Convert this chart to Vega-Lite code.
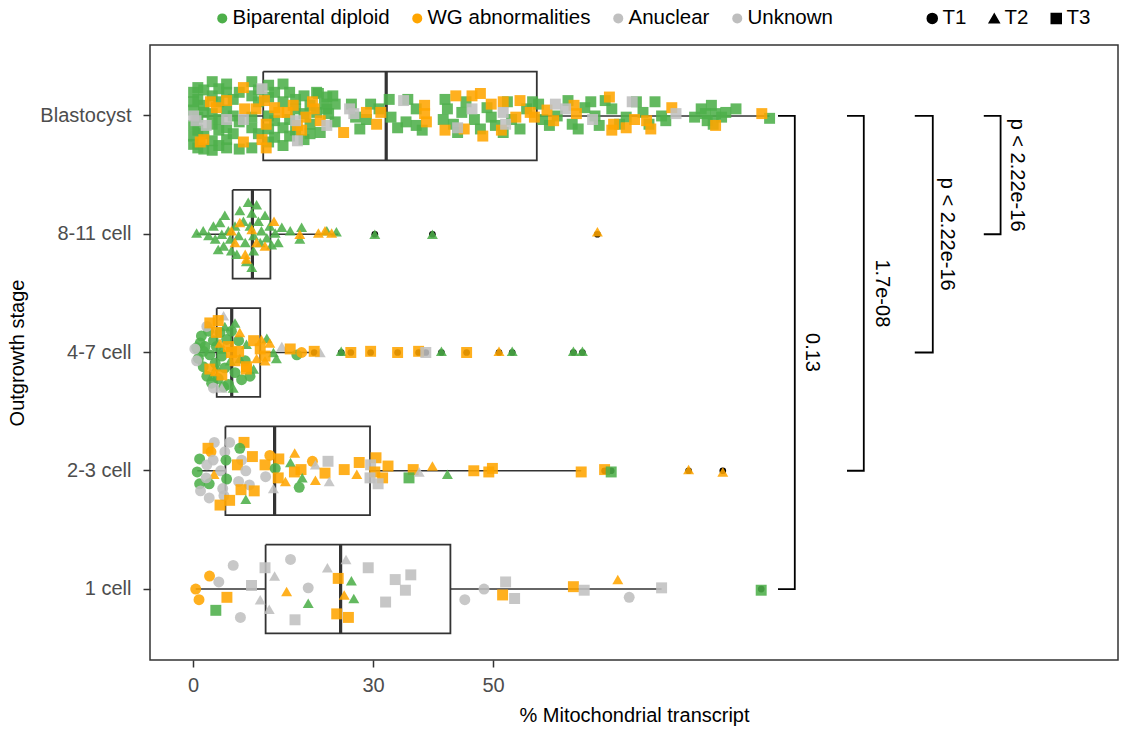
{
"$schema":"https://vega.github.io/schema/vega-lite/v6.json",
"width":968,"height":615,
"autosize":{"type":"none"},
"padding":{"left":150,"top":45,"right":11,"bottom":69},
"background":"white",
"config":{
"font":"Liberation Sans",
"view":{"stroke":"#333333","strokeWidth":1.5},
"axis":{"domain":false,"grid":false,"tickColor":"#333333","tickWidth":1.5,"tickSize":7,"labelFontSize":20,"labelColor":"#4D4D4D","titleFontSize":20,"titleColor":"#000000","titleFontWeight":"normal"},
"legend":{"padding":0,"labelFontSize":20.5,"labelColor":"#000000","symbolOpacity":1,"labelOffset":0,"labelLimit":400}
},
"datasets":{
"box":[
{"s":"Bl","lo":0.1,"q1":11.7,"q3":57.3,"hi":96.1},
{"s":"c8","lo":0.6,"q1":6.6,"q3":12.9,"hi":24.2},
{"s":"c4","lo":0.1,"q1":3.95,"q3":11.2,"hi":19.4},
{"s":"c2","lo":0.7,"q1":5.4,"q3":29.5,"hi":64.7},
{"s":"c1","lo":0.45,"q1":12.1,"q3":42.9,"hi":78.1}
],
"boxl":[
{"s":"Bl","k":"Bl","o":0,"x":11.7,"j":-0.375},{"s":"Bl","k":"Bl","o":1,"x":57.3,"j":-0.375},{"s":"Bl","k":"Bl","o":2,"x":57.3,"j":0.375},{"s":"Bl","k":"Bl","o":3,"x":11.7,"j":0.375},{"s":"Bl","k":"Bl","o":4,"x":11.7,"j":-0.375},
{"s":"c8","k":"c8","o":0,"x":6.6,"j":-0.375},{"s":"c8","k":"c8","o":1,"x":12.9,"j":-0.375},{"s":"c8","k":"c8","o":2,"x":12.9,"j":0.375},{"s":"c8","k":"c8","o":3,"x":6.6,"j":0.375},{"s":"c8","k":"c8","o":4,"x":6.6,"j":-0.375},
{"s":"c4","k":"c4","o":0,"x":3.95,"j":-0.375},{"s":"c4","k":"c4","o":1,"x":11.2,"j":-0.375},{"s":"c4","k":"c4","o":2,"x":11.2,"j":0.375},{"s":"c4","k":"c4","o":3,"x":3.95,"j":0.375},{"s":"c4","k":"c4","o":4,"x":3.95,"j":-0.375},
{"s":"c2","k":"c2","o":0,"x":5.4,"j":-0.375},{"s":"c2","k":"c2","o":1,"x":29.5,"j":-0.375},{"s":"c2","k":"c2","o":2,"x":29.5,"j":0.375},{"s":"c2","k":"c2","o":3,"x":5.4,"j":0.375},{"s":"c2","k":"c2","o":4,"x":5.4,"j":-0.375},
{"s":"c1","k":"c1","o":0,"x":12.1,"j":-0.375},{"s":"c1","k":"c1","o":1,"x":42.9,"j":-0.375},{"s":"c1","k":"c1","o":2,"x":42.9,"j":0.375},{"s":"c1","k":"c1","o":3,"x":12.1,"j":0.375},{"s":"c1","k":"c1","o":4,"x":12.1,"j":-0.375}
],
"medl":[
{"s":"Bl","k":"Bl","o":0,"x":32.2,"j":-0.375},{"s":"Bl","k":"Bl","o":1,"x":32.2,"j":0.375},
{"s":"c8","k":"c8","o":0,"x":9.9,"j":-0.375},{"s":"c8","k":"c8","o":1,"x":9.9,"j":0.375},
{"s":"c4","k":"c4","o":0,"x":6.45,"j":-0.375},{"s":"c4","k":"c4","o":1,"x":6.45,"j":0.375},
{"s":"c2","k":"c2","o":0,"x":13.6,"j":-0.375},{"s":"c2","k":"c2","o":1,"x":13.6,"j":0.375},
{"s":"c1","k":"c1","o":0,"x":24.6,"j":-0.375},{"s":"c1","k":"c1","o":1,"x":24.6,"j":0.375}
],
"out":[
{"s":"c8","v":30.3},{"s":"c8","v":39.9},{"s":"c8","v":67.4},
{"s":"c4","v":20.2},{"s":"c4","v":24.7},{"s":"c4","v":26.3},{"s":"c4","v":29.6},{"s":"c4","v":34.1},{"s":"c4","v":37.6},{"s":"c4","v":38.8},{"s":"c4","v":41.4},{"s":"c4","v":45.6},{"s":"c4","v":51.0},{"s":"c4","v":53.2},{"s":"c4","v":63.4},{"s":"c4","v":64.9},
{"s":"c2","v":68.6},{"s":"c2","v":69.7},{"s":"c2","v":82.6},{"s":"c2","v":88.3},
{"s":"c1","v":94.7}
],
"br":[
{"k":1,"o":0,"x":97.5,"s":"Bl"},{"k":1,"o":1,"x":100.3,"s":"Bl"},{"k":1,"o":2,"x":100.3,"s":"c1"},{"k":1,"o":3,"x":97.5,"s":"c1"},
{"k":2,"o":0,"x":109.0,"s":"Bl"},{"k":2,"o":1,"x":111.8,"s":"Bl"},{"k":2,"o":2,"x":111.8,"s":"c2"},{"k":2,"o":3,"x":109.0,"s":"c2"},
{"k":3,"o":0,"x":120.3,"s":"Bl"},{"k":3,"o":1,"x":123.3,"s":"Bl"},{"k":3,"o":2,"x":123.3,"s":"c4"},{"k":3,"o":3,"x":120.3,"s":"c4"},
{"k":4,"o":0,"x":131.8,"s":"Bl"},{"k":4,"o":1,"x":134.6,"s":"Bl"},{"k":4,"o":2,"x":134.6,"s":"c8"},{"k":4,"o":3,"x":131.8,"s":"c8"}
],
"lab":[
{"x":103.1,"s":"c4","j":0,"l":"0.13"},
{"x":114.8,"s":"c8","j":0.5,"l":"1.7e-08"},
{"x":125.6,"s":"c8","j":0,"l":"p < 2.22e-16"},
{"x":137.3,"s":"Bl","j":0.5,"l":"p < 2.22e-16"}
],
"pts":[
{"s":"Bl","v":0.1,"j":-0.2,"c":"BD","t":"T3"},{"s":"Bl","v":0.1,"j":-0.12,"c":"BD","t":"T3"},{"s":"Bl","v":0.1,"j":-0.05,"c":"BD","t":"T3"},{"s":"Bl","v":0.1,"j":0.08,"c":"BD","t":"T3"},{"s":"Bl","v":0.1,"j":0.17,"c":"BD","t":"T3"},{"s":"Bl","v":0.1,"j":0.24,"c":"BD","t":"T3"},
{"s":"Bl","v":0.8,"j":-0.24,"c":"BD","t":"T3"},{"s":"Bl","v":0.8,"j":-0.14,"c":"BD","t":"T3"},{"s":"Bl","v":0.8,"j":0.01,"c":"BD","t":"T3"},{"s":"Bl","v":0.8,"j":0.12,"c":"BD","t":"T3"},{"s":"Bl","v":0.8,"j":0.27,"c":"BD","t":"T3"},
{"s":"Bl","v":1.8,"j":-0.22,"c":"BD","t":"T3"},{"s":"Bl","v":1.8,"j":-0.09,"c":"BD","t":"T3"},{"s":"Bl","v":1.8,"j":-0.03,"c":"BD","t":"T3"},{"s":"Bl","v":1.8,"j":0.15,"c":"BD","t":"T3"},{"s":"Bl","v":1.8,"j":0.28,"c":"BD","t":"T3"},
{"s":"Bl","v":3.2,"j":-0.29,"c":"BD","t":"T3"},{"s":"Bl","v":3.2,"j":-0.17,"c":"BD","t":"T3"},{"s":"Bl","v":3.2,"j":-0.02,"c":"BD","t":"T3"},{"s":"Bl","v":3.2,"j":0.07,"c":"BD","t":"T3"},{"s":"Bl","v":3.2,"j":0.21,"c":"BD","t":"T3"},{"s":"Bl","v":3.2,"j":0.29,"c":"BD","t":"T3"},
{"s":"Bl","v":4.3,"j":-0.23,"c":"BD","t":"T3"},{"s":"Bl","v":4.3,"j":-0.12,"c":"BD","t":"T3"},{"s":"Bl","v":4.3,"j":0.03,"c":"BD","t":"T3"},{"s":"Bl","v":4.3,"j":0.12,"c":"BD","t":"T3"},{"s":"Bl","v":4.3,"j":0.25,"c":"BD","t":"T3"},
{"s":"Bl","v":5.6,"j":-0.27,"c":"BD","t":"T3"},{"s":"Bl","v":5.6,"j":-0.2,"c":"BD","t":"T3"},{"s":"Bl","v":5.6,"j":-0.05,"c":"BD","t":"T3"},{"s":"Bl","v":5.6,"j":0.1,"c":"BD","t":"T3"},{"s":"Bl","v":5.6,"j":0.2,"c":"BD","t":"T3"},{"s":"Bl","v":5.6,"j":0.27,"c":"BD","t":"T3"},
{"s":"Bl","v":6.7,"j":-0.14,"c":"BD","t":"T3"},{"s":"Bl","v":6.7,"j":0.0,"c":"BD","t":"T3"},{"s":"Bl","v":6.7,"j":0.15,"c":"BD","t":"T3"},
{"s":"Bl","v":7.7,"j":-0.2,"c":"BD","t":"T3"},{"s":"Bl","v":7.7,"j":0.05,"c":"BD","t":"T3"},{"s":"Bl","v":7.7,"j":0.28,"c":"BD","t":"T3"},
{"s":"Bl","v":9.8,"j":-0.29,"c":"BD","t":"T3"},{"s":"Bl","v":9.8,"j":-0.17,"c":"BD","t":"T3"},{"s":"Bl","v":9.8,"j":0.01,"c":"BD","t":"T3"},{"s":"Bl","v":9.8,"j":0.1,"c":"BD","t":"T3"},{"s":"Bl","v":9.8,"j":0.27,"c":"BD","t":"T3"},
{"s":"Bl","v":10.9,"j":-0.22,"c":"BD","t":"T3"},{"s":"Bl","v":10.9,"j":-0.12,"c":"BD","t":"T3"},{"s":"Bl","v":10.9,"j":0.15,"c":"BD","t":"T3"},
{"s":"Bl","v":12.6,"j":-0.26,"c":"BD","t":"T3"},{"s":"Bl","v":12.6,"j":-0.16,"c":"BD","t":"T3"},{"s":"Bl","v":12.6,"j":0.0,"c":"BD","t":"T3"},{"s":"Bl","v":12.6,"j":0.11,"c":"BD","t":"T3"},{"s":"Bl","v":12.6,"j":0.22,"c":"BD","t":"T3"},
{"s":"Bl","v":13.6,"j":-0.2,"c":"BD","t":"T3"},{"s":"Bl","v":13.6,"j":0.04,"c":"BD","t":"T3"},{"s":"Bl","v":13.6,"j":0.18,"c":"BD","t":"T3"},
{"s":"Bl","v":15.0,"j":-0.27,"c":"BD","t":"T3"},{"s":"Bl","v":15.0,"j":-0.12,"c":"BD","t":"T3"},{"s":"Bl","v":15.0,"j":0.1,"c":"BD","t":"T3"},{"s":"Bl","v":15.0,"j":0.25,"c":"BD","t":"T3"},
{"s":"Bl","v":16.1,"j":-0.2,"c":"BD","t":"T3"},{"s":"Bl","v":16.1,"j":0.03,"c":"BD","t":"T3"},{"s":"Bl","v":16.1,"j":0.17,"c":"BD","t":"T3"},
{"s":"Bl","v":17.1,"j":-0.14,"c":"BD","t":"T3"},{"s":"Bl","v":17.1,"j":-0.06,"c":"BD","t":"T3"},{"s":"Bl","v":17.1,"j":0.12,"c":"BD","t":"T3"},
{"s":"Bl","v":18.5,"j":-0.17,"c":"BD","t":"T3"},{"s":"Bl","v":18.5,"j":-0.02,"c":"BD","t":"T3"},{"s":"Bl","v":18.5,"j":0.2,"c":"BD","t":"T3"},
{"s":"Bl","v":19.5,"j":-0.09,"c":"BD","t":"T3"},{"s":"Bl","v":19.5,"j":0.07,"c":"BD","t":"T3"},{"s":"Bl","v":19.5,"j":0.15,"c":"BD","t":"T3"},
{"s":"Bl","v":20.6,"j":-0.2,"c":"BD","t":"T3"},{"s":"Bl","v":20.6,"j":-0.03,"c":"BD","t":"T3"},
{"s":"Bl","v":22.3,"j":-0.16,"c":"BD","t":"T3"},{"s":"Bl","v":22.3,"j":-0.06,"c":"BD","t":"T3"},
{"s":"Bl","v":23.7,"j":-0.1,"c":"BD","t":"T3"},{"s":"Bl","v":23.7,"j":0.05,"c":"BD","t":"T3"},
{"s":"Bl","v":20.9,"j":-0.19,"c":"BD","t":"T3"},{"s":"Bl","v":21.9,"j":-0.1,"c":"BD","t":"T3"},{"s":"Bl","v":23.3,"j":-0.17,"c":"BD","t":"T3"},{"s":"Bl","v":22.6,"j":-0.02,"c":"BD","t":"T3"},{"s":"Bl","v":21.2,"j":0.14,"c":"BD","t":"T3"},{"s":"Bl","v":26.4,"j":-0.1,"c":"BD","t":"T3"},{"s":"Bl","v":27.1,"j":0.01,"c":"BD","t":"T3"},{"s":"Bl","v":27.8,"j":0.11,"c":"BD","t":"T3"},{"s":"Bl","v":28.9,"j":0.03,"c":"BD","t":"T3"},{"s":"Bl","v":29.6,"j":-0.1,"c":"BD","t":"T3"},{"s":"Bl","v":31.0,"j":-0.06,"c":"BD","t":"T3"},{"s":"Bl","v":32.7,"j":-0.14,"c":"BD","t":"T3"},{"s":"Bl","v":33.0,"j":0.01,"c":"BD","t":"T3"},{"s":"Bl","v":34.1,"j":0.1,"c":"BD","t":"T3"},{"s":"Bl","v":35.8,"j":-0.14,"c":"BD","t":"T3"},{"s":"Bl","v":35.5,"j":0.05,"c":"BD","t":"T3"},{"s":"Bl","v":37.2,"j":-0.06,"c":"BD","t":"T3"},{"s":"Bl","v":38.2,"j":0.12,"c":"BD","t":"T3"},{"s":"Bl","v":37.2,"j":0.08,"c":"BD","t":"T3"},
{"s":"Bl","v":42.0,"j":-0.14,"c":"BD","t":"T3"},{"s":"Bl","v":42.4,"j":-0.06,"c":"BD","t":"T3"},{"s":"Bl","v":41.7,"j":0.03,"c":"BD","t":"T3"},{"s":"Bl","v":43.4,"j":0.07,"c":"BD","t":"T3"},{"s":"Bl","v":44.1,"j":0.14,"c":"BD","t":"T3"},{"s":"Bl","v":45.5,"j":-0.12,"c":"BD","t":"T3"},{"s":"Bl","v":44.8,"j":-0.03,"c":"BD","t":"T3"},{"s":"Bl","v":46.9,"j":0.03,"c":"BD","t":"T3"},{"s":"Bl","v":47.9,"j":0.11,"c":"BD","t":"T3"},{"s":"Bl","v":49.0,"j":-0.07,"c":"BD","t":"T3"},{"s":"Bl","v":49.7,"j":0.01,"c":"BD","t":"T3"},{"s":"Bl","v":50.4,"j":0.08,"c":"BD","t":"T3"},{"s":"Bl","v":51.7,"j":0.14,"c":"BD","t":"T3"},{"s":"Bl","v":52.4,"j":-0.12,"c":"BD","t":"T3"},{"s":"Bl","v":53.1,"j":0.03,"c":"BD","t":"T3"},{"s":"Bl","v":54.5,"j":0.11,"c":"BD","t":"T3"},{"s":"Bl","v":55.6,"j":-0.06,"c":"BD","t":"T3"},{"s":"Bl","v":56.6,"j":-0.12,"c":"BD","t":"T3"},
{"s":"Bl","v":57.6,"j":-0.1,"c":"BD","t":"T3"},{"s":"Bl","v":58.3,"j":0.03,"c":"BD","t":"T3"},{"s":"Bl","v":59.4,"j":0.08,"c":"BD","t":"T3"},{"s":"Bl","v":60.7,"j":0.0,"c":"BD","t":"T3"},{"s":"Bl","v":62.5,"j":-0.13,"c":"BD","t":"T3"},{"s":"Bl","v":63.2,"j":0.07,"c":"BD","t":"T3"},{"s":"Bl","v":64.2,"j":0.11,"c":"BD","t":"T3"},{"s":"Bl","v":65.3,"j":-0.07,"c":"BD","t":"T3"},{"s":"Bl","v":66.3,"j":-0.12,"c":"BD","t":"T3"},{"s":"Bl","v":67.0,"j":0.0,"c":"BD","t":"T3"},{"s":"Bl","v":67.7,"j":0.08,"c":"BD","t":"T3"},{"s":"Bl","v":68.7,"j":-0.13,"c":"BD","t":"T3"},{"s":"Bl","v":69.8,"j":-0.06,"c":"BD","t":"T3"},{"s":"Bl","v":71.1,"j":0.07,"c":"BD","t":"T3"},{"s":"Bl","v":72.2,"j":0.01,"c":"BD","t":"T3"},{"s":"Bl","v":73.9,"j":-0.12,"c":"BD","t":"T3"},{"s":"Bl","v":75.0,"j":-0.03,"c":"BD","t":"T3"},{"s":"Bl","v":76.0,"j":0.07,"c":"BD","t":"T3"},{"s":"Bl","v":77.0,"j":-0.12,"c":"BD","t":"T3"},{"s":"Bl","v":78.1,"j":0.0,"c":"BD","t":"T3"},{"s":"Bl","v":78.8,"j":0.04,"c":"BD","t":"T3"},
{"s":"Bl","v":83.6,"j":0.01,"c":"BD","t":"T3"},{"s":"Bl","v":84.7,"j":-0.06,"c":"BD","t":"T3"},{"s":"Bl","v":85.7,"j":0.04,"c":"BD","t":"T3"},{"s":"Bl","v":86.4,"j":-0.09,"c":"BD","t":"T3"},{"s":"Bl","v":87.1,"j":-0.02,"c":"BD","t":"T3"},{"s":"Bl","v":88.1,"j":0.01,"c":"BD","t":"T3"},{"s":"Bl","v":88.8,"j":-0.03,"c":"BD","t":"T3"},{"s":"Bl","v":90.5,"j":-0.06,"c":"BD","t":"T3"},{"s":"Bl","v":96.1,"j":0.02,"c":"BD","t":"T3"},{"s":"Bl","v":85.4,"j":-0.02,"c":"BD","t":"T3"},{"s":"Bl","v":86.7,"j":0.07,"c":"BD","t":"T3"},
{"s":"Bl","v":1.2,"j":0.22,"c":"WG","t":"T3"},{"s":"Bl","v":1.8,"j":0.2,"c":"WG","t":"T3"},{"s":"Bl","v":2.9,"j":-0.12,"c":"WG","t":"T3"},{"s":"Bl","v":3.9,"j":-0.07,"c":"WG","t":"T3"},{"s":"Bl","v":5.6,"j":-0.13,"c":"WG","t":"T3"},{"s":"Bl","v":8.4,"j":-0.24,"c":"WG","t":"T3"},{"s":"Bl","v":8.6,"j":-0.06,"c":"WG","t":"T3"},{"s":"Bl","v":8.4,"j":0.22,"c":"WG","t":"T3"},{"s":"Bl","v":10.5,"j":-0.06,"c":"WG","t":"T3"},{"s":"Bl","v":11.9,"j":-0.13,"c":"WG","t":"T3"},{"s":"Bl","v":11.5,"j":0.2,"c":"WG","t":"T3"},{"s":"Bl","v":12.2,"j":0.27,"c":"WG","t":"T3"},{"s":"Bl","v":13.6,"j":-0.07,"c":"WG","t":"T3"},{"s":"Bl","v":12.2,"j":0.07,"c":"WG","t":"T3"},{"s":"Bl","v":14.3,"j":-0.03,"c":"WG","t":"T3"},{"s":"Bl","v":15.7,"j":-0.03,"c":"WG","t":"T3"},{"s":"Bl","v":16.7,"j":-0.09,"c":"WG","t":"T3"},{"s":"Bl","v":17.4,"j":0.08,"c":"WG","t":"T3"},{"s":"Bl","v":18.1,"j":0.12,"c":"WG","t":"T3"},{"s":"Bl","v":18.8,"j":0.01,"c":"WG","t":"T3"},{"s":"Bl","v":19.9,"j":-0.12,"c":"WG","t":"T3"},{"s":"Bl","v":20.2,"j":-0.06,"c":"WG","t":"T3"},{"s":"Bl","v":21.2,"j":0.04,"c":"WG","t":"T3"},{"s":"Bl","v":25.1,"j":0.14,"c":"WG","t":"T3"},{"s":"Bl","v":28.9,"j":-0.03,"c":"WG","t":"T3"},{"s":"Bl","v":30.6,"j":0.07,"c":"WG","t":"T3"},{"s":"Bl","v":31.3,"j":-0.03,"c":"WG","t":"T3"},{"s":"Bl","v":38.6,"j":-0.09,"c":"WG","t":"T3"},{"s":"Bl","v":38.9,"j":0.05,"c":"WG","t":"T3"},{"s":"Bl","v":38.6,"j":-0.02,"c":"WG","t":"T3"},{"s":"Bl","v":43.8,"j":-0.17,"c":"WG","t":"T3"},{"s":"Bl","v":46.5,"j":-0.17,"c":"WG","t":"T3"},{"s":"Bl","v":47.9,"j":-0.19,"c":"WG","t":"T3"},{"s":"Bl","v":42.0,"j":0.12,"c":"WG","t":"T3"},{"s":"Bl","v":45.2,"j":0.11,"c":"WG","t":"T3"},{"s":"Bl","v":48.3,"j":0.17,"c":"WG","t":"T3"},{"s":"Bl","v":49.7,"j":-0.1,"c":"WG","t":"T3"},{"s":"Bl","v":51.7,"j":-0.12,"c":"WG","t":"T3"},{"s":"Bl","v":53.8,"j":0.01,"c":"WG","t":"T3"},{"s":"Bl","v":54.5,"j":-0.13,"c":"WG","t":"T3"},{"s":"Bl","v":51.4,"j":0.12,"c":"WG","t":"T3"},{"s":"Bl","v":56.2,"j":-0.03,"c":"WG","t":"T3"},{"s":"Bl","v":56.9,"j":0.01,"c":"WG","t":"T3"},{"s":"Bl","v":59.0,"j":-0.05,"c":"WG","t":"T3"},{"s":"Bl","v":60.1,"j":0.04,"c":"WG","t":"T3"},{"s":"Bl","v":63.5,"j":-0.09,"c":"WG","t":"T3"},{"s":"Bl","v":63.9,"j":-0.02,"c":"WG","t":"T3"},{"s":"Bl","v":69.4,"j":-0.16,"c":"WG","t":"T3"},{"s":"Bl","v":70.1,"j":0.07,"c":"WG","t":"T3"},{"s":"Bl","v":69.8,"j":0.12,"c":"WG","t":"T3"},{"s":"Bl","v":72.2,"j":0.1,"c":"WG","t":"T3"},{"s":"Bl","v":73.6,"j":0.03,"c":"WG","t":"T3"},{"s":"Bl","v":75.6,"j":0.04,"c":"WG","t":"T3"},{"s":"Bl","v":76.3,"j":0.11,"c":"WG","t":"T3"},{"s":"Bl","v":79.8,"j":-0.07,"c":"WG","t":"T3"},{"s":"Bl","v":87.1,"j":0.08,"c":"WG","t":"T3"},{"s":"Bl","v":94.8,"j":-0.02,"c":"WG","t":"T3"},
{"s":"Bl","v":0.1,"j":0.0,"c":"AN","t":"T3"},{"s":"Bl","v":2.2,"j":0.08,"c":"AN","t":"T3"},{"s":"Bl","v":11.5,"j":-0.23,"c":"AN","t":"T3"},{"s":"Bl","v":17.1,"j":0.04,"c":"AN","t":"T3"},{"s":"Bl","v":22.3,"j":0.08,"c":"AN","t":"T3"},{"s":"Bl","v":26.8,"j":-0.02,"c":"AN","t":"T3"},{"s":"Bl","v":35.1,"j":-0.13,"c":"AN","t":"T3"},{"s":"Bl","v":46.5,"j":-0.06,"c":"AN","t":"T3"},{"s":"Bl","v":52.1,"j":0.07,"c":"AN","t":"T3"},{"s":"Bl","v":60.4,"j":-0.1,"c":"AN","t":"T3"},{"s":"Bl","v":66.6,"j":0.03,"c":"AN","t":"T3"},{"s":"Bl","v":80.5,"j":-0.02,"c":"AN","t":"T3"},
{"s":"Bl","v":0.5,"j":0.04,"c":"UN","t":"T3"},{"s":"Bl","v":5.6,"j":0.03,"c":"UN","t":"T3"},{"s":"Bl","v":8.4,"j":0.03,"c":"UN","t":"T3"},{"s":"Bl","v":17.4,"j":0.21,"c":"UN","t":"T3"},{"s":"Bl","v":26.1,"j":-0.06,"c":"UN","t":"T3"},{"s":"Bl","v":51.7,"j":-0.03,"c":"UN","t":"T3"},{"s":"Bl","v":44.1,"j":0.1,"c":"UN","t":"T3"},{"s":"Bl","v":62.1,"j":-0.06,"c":"UN","t":"T3"},{"s":"Bl","v":73.2,"j":-0.12,"c":"UN","t":"T3"},

{"s":"c8","v":0.6,"j":-0.01,"c":"BD","t":"T2"},{"s":"c8","v":1.7,"j":-0.03,"c":"BD","t":"T2"},{"s":"c8","v":2.6,"j":0.01,"c":"BD","t":"T2"},{"s":"c8","v":3.4,"j":-0.07,"c":"BD","t":"T2"},{"s":"c8","v":3.7,"j":0.04,"c":"BD","t":"T2"},{"s":"c8","v":4.5,"j":-0.1,"c":"BD","t":"T2"},{"s":"c8","v":4.8,"j":0.0,"c":"BD","t":"T2"},{"s":"c8","v":5.1,"j":0.1,"c":"BD","t":"T2"},{"s":"c8","v":5.3,"j":-0.16,"c":"BD","t":"T2"},{"s":"c8","v":5.9,"j":-0.03,"c":"BD","t":"T2"},{"s":"c8","v":6.2,"j":0.04,"c":"BD","t":"T2"},{"s":"c8","v":6.4,"j":0.14,"c":"BD","t":"T2"},{"s":"c8","v":7.0,"j":-0.07,"c":"BD","t":"T2"},{"s":"c8","v":7.6,"j":0.01,"c":"BD","t":"T2"},{"s":"c8","v":7.8,"j":-0.2,"c":"BD","t":"T2"},{"s":"c8","v":8.4,"j":-0.11,"c":"BD","t":"T2"},{"s":"c8","v":8.7,"j":0.07,"c":"BD","t":"T2"},{"s":"c8","v":9.2,"j":-0.27,"c":"BD","t":"T2"},{"s":"c8","v":9.5,"j":-0.07,"c":"BD","t":"T2"},{"s":"c8","v":9.8,"j":-0.18,"c":"BD","t":"T2"},{"s":"c8","v":10.1,"j":0.01,"c":"BD","t":"T2"},{"s":"c8","v":9.8,"j":0.28,"c":"BD","t":"T2"},{"s":"c8","v":10.1,"j":0.14,"c":"BD","t":"T2"},{"s":"c8","v":10.6,"j":-0.25,"c":"BD","t":"T2"},{"s":"c8","v":10.9,"j":-0.11,"c":"BD","t":"T2"},{"s":"c8","v":11.2,"j":0.07,"c":"BD","t":"T2"},{"s":"c8","v":11.4,"j":-0.03,"c":"BD","t":"T2"},{"s":"c8","v":12.0,"j":-0.16,"c":"BD","t":"T2"},{"s":"c8","v":12.3,"j":0.03,"c":"BD","t":"T2"},{"s":"c8","v":12.8,"j":-0.07,"c":"BD","t":"T2"},{"s":"c8","v":13.1,"j":0.09,"c":"BD","t":"T2"},{"s":"c8","v":13.7,"j":-0.01,"c":"BD","t":"T2"},{"s":"c8","v":14.2,"j":0.07,"c":"BD","t":"T2"},{"s":"c8","v":14.8,"j":-0.06,"c":"BD","t":"T2"},{"s":"c8","v":16.2,"j":-0.03,"c":"BD","t":"T2"},{"s":"c8","v":18.1,"j":-0.06,"c":"BD","t":"T2"},{"s":"c8","v":17.8,"j":0.04,"c":"BD","t":"T2"},{"s":"c8","v":22.3,"j":-0.03,"c":"BD","t":"T2"},{"s":"c8","v":23.9,"j":-0.02,"c":"BD","t":"T2"},{"s":"c8","v":30.3,"j":0.0,"c":"BD","t":"T2"},{"s":"c8","v":39.9,"j":0.0,"c":"BD","t":"T2"},{"s":"c8","v":4.2,"j":0.13,"c":"BD","t":"T2"},{"s":"c8","v":7.3,"j":0.17,"c":"BD","t":"T2"},{"s":"c8","v":8.9,"j":0.23,"c":"BD","t":"T2"},
{"s":"c8","v":7.8,"j":-0.1,"c":"WG","t":"T2"},{"s":"c8","v":6.4,"j":-0.03,"c":"WG","t":"T2"},{"s":"c8","v":9.8,"j":-0.04,"c":"WG","t":"T2"},{"s":"c8","v":7.0,"j":0.07,"c":"WG","t":"T2"},{"s":"c8","v":10.6,"j":0.07,"c":"WG","t":"T2"},{"s":"c8","v":12.0,"j":0.1,"c":"WG","t":"T2"},{"s":"c8","v":8.7,"j":0.17,"c":"WG","t":"T2"},{"s":"c8","v":8.9,"j":0.21,"c":"WG","t":"T2"},{"s":"c8","v":13.5,"j":-0.11,"c":"WG","t":"T2"},{"s":"c8","v":17.8,"j":0.0,"c":"WG","t":"T2"},{"s":"c8","v":20.9,"j":-0.01,"c":"WG","t":"T2"},{"s":"c8","v":22.0,"j":-0.03,"c":"WG","t":"T2"},{"s":"c8","v":23.1,"j":-0.01,"c":"WG","t":"T2"},{"s":"c8","v":67.4,"j":-0.02,"c":"WG","t":"T2"},

{"s":"c4","v":0.6,"j":-0.04,"c":"BD","t":"T1"},{"s":"c4","v":0.9,"j":0.05,"c":"BD","t":"T1"},{"s":"c4","v":1.4,"j":-0.14,"c":"BD","t":"T1"},{"s":"c4","v":1.7,"j":0.12,"c":"BD","t":"T1"},{"s":"c4","v":2.0,"j":-0.05,"c":"BD","t":"T1"},{"s":"c4","v":2.3,"j":0.2,"c":"BD","t":"T1"},{"s":"c4","v":2.6,"j":-0.18,"c":"BD","t":"T1"},{"s":"c4","v":2.8,"j":0.02,"c":"BD","t":"T1"},{"s":"c4","v":3.1,"j":0.26,"c":"BD","t":"T1"},{"s":"c4","v":3.4,"j":-0.1,"c":"BD","t":"T1"},{"s":"c4","v":3.7,"j":0.09,"c":"BD","t":"T1"},{"s":"c4","v":4.2,"j":0.22,"c":"BD","t":"T1"},{"s":"c4","v":4.5,"j":-0.17,"c":"BD","t":"T1"},{"s":"c4","v":4.8,"j":0.03,"c":"BD","t":"T1"},{"s":"c4","v":5.3,"j":0.13,"c":"BD","t":"T1"},{"s":"c4","v":5.6,"j":-0.11,"c":"BD","t":"T1"},{"s":"c4","v":5.9,"j":0.27,"c":"BD","t":"T1"},{"s":"c4","v":6.4,"j":-0.18,"c":"BD","t":"T1"},{"s":"c4","v":7.0,"j":0.17,"c":"BD","t":"T1"},{"s":"c4","v":7.6,"j":-0.1,"c":"BD","t":"T1"},{"s":"c4","v":8.1,"j":0.23,"c":"BD","t":"T1"},{"s":"c4","v":8.7,"j":0.07,"c":"BD","t":"T1"},{"s":"c4","v":9.5,"j":0.2,"c":"BD","t":"T1"},{"s":"c4","v":1.7,"j":-0.01,"c":"BD","t":"T1"},{"s":"c4","v":3.9,"j":-0.05,"c":"BD","t":"T1"},{"s":"c4","v":1.2,"j":-0.08,"c":"BD","t":"T1"},{"s":"c4","v":5.1,"j":0.29,"c":"BD","t":"T1"},{"s":"c4","v":17.3,"j":0.02,"c":"BD","t":"T1"},
{"s":"c4","v":0.3,"j":-0.03,"c":"AN","t":"T1"},{"s":"c4","v":0.6,"j":0.07,"c":"UN","t":"T1"},{"s":"c4","v":3.4,"j":0.3,"c":"AN","t":"T1"},{"s":"c4","v":2.3,"j":-0.22,"c":"UN","t":"T1"},{"s":"c4","v":18.1,"j":0.0,"c":"WG","t":"T1"},
{"s":"c4","v":7.0,"j":-0.25,"c":"BD","t":"T2"},{"s":"c4","v":5.3,"j":-0.22,"c":"BD","t":"T2"},{"s":"c4","v":4.8,"j":-0.03,"c":"BD","t":"T2"},{"s":"c4","v":6.2,"j":0.07,"c":"BD","t":"T2"},{"s":"c4","v":8.9,"j":-0.07,"c":"BD","t":"T2"},{"s":"c4","v":12.3,"j":-0.12,"c":"BD","t":"T2"},{"s":"c4","v":13.4,"j":0.0,"c":"BD","t":"T2"},{"s":"c4","v":13.9,"j":0.05,"c":"BD","t":"T2"},{"s":"c4","v":6.7,"j":0.3,"c":"BD","t":"T2"},{"s":"c4","v":7.8,"j":0.05,"c":"BD","t":"T2"},{"s":"c4","v":10.1,"j":0.14,"c":"BD","t":"T2"},{"s":"c4","v":3.9,"j":0.12,"c":"BD","t":"T2"},{"s":"c4","v":3.1,"j":0.2,"c":"BD","t":"T2"},{"s":"c4","v":24.7,"j":-0.01,"c":"BD","t":"T2"},{"s":"c4","v":41.4,"j":-0.01,"c":"BD","t":"T2"},{"s":"c4","v":53.2,"j":-0.01,"c":"BD","t":"T2"},{"s":"c4","v":63.4,"j":-0.01,"c":"BD","t":"T2"},{"s":"c4","v":64.9,"j":-0.01,"c":"BD","t":"T2"},
{"s":"c4","v":4.8,"j":0.3,"c":"AN","t":"T2"},{"s":"c4","v":5.1,"j":-0.31,"c":"UN","t":"T2"},{"s":"c4","v":14.8,"j":-0.05,"c":"AN","t":"T2"},{"s":"c4","v":21.2,"j":0.0,"c":"UN","t":"T2"},
{"s":"c4","v":7.8,"j":-0.17,"c":"WG","t":"T2"},{"s":"c4","v":4.5,"j":-0.08,"c":"WG","t":"T2"},{"s":"c4","v":11.4,"j":-0.11,"c":"WG","t":"T2"},{"s":"c4","v":12.8,"j":-0.08,"c":"WG","t":"T2"},{"s":"c4","v":12.0,"j":0.07,"c":"WG","t":"T2"},{"s":"c4","v":10.6,"j":0.05,"c":"WG","t":"T2"},{"s":"c4","v":3.7,"j":0.16,"c":"WG","t":"T2"},{"s":"c4","v":51.0,"j":-0.01,"c":"WG","t":"T2"},
{"s":"c4","v":2.8,"j":-0.25,"c":"WG","t":"T3"},{"s":"c4","v":4.2,"j":-0.27,"c":"WG","t":"T3"},{"s":"c4","v":3.9,"j":-0.17,"c":"WG","t":"T3"},{"s":"c4","v":2.8,"j":0.14,"c":"WG","t":"T3"},{"s":"c4","v":4.8,"j":0.19,"c":"WG","t":"T3"},{"s":"c4","v":8.9,"j":0.12,"c":"WG","t":"T3"},{"s":"c4","v":7.6,"j":-0.01,"c":"WG","t":"T3"},{"s":"c4","v":6.4,"j":0.0,"c":"WG","t":"T3"},{"s":"c4","v":7.0,"j":0.07,"c":"WG","t":"T3"},{"s":"c4","v":10.1,"j":-0.1,"c":"WG","t":"T3"},{"s":"c4","v":11.2,"j":-0.03,"c":"WG","t":"T3"},{"s":"c4","v":12.0,"j":0.03,"c":"WG","t":"T3"},{"s":"c4","v":5.9,"j":-0.05,"c":"WG","t":"T3"},{"s":"c4","v":8.9,"j":0.14,"c":"WG","t":"T3"},{"s":"c4","v":16.2,"j":-0.03,"c":"WG","t":"T3"},{"s":"c4","v":20.2,"j":-0.01,"c":"WG","t":"T3"},{"s":"c4","v":26.3,"j":0.0,"c":"WG","t":"T3"},{"s":"c4","v":29.6,"j":-0.01,"c":"WG","t":"T3"},{"s":"c4","v":34.1,"j":0.0,"c":"WG","t":"T3"},{"s":"c4","v":37.6,"j":-0.01,"c":"WG","t":"T3"},{"s":"c4","v":45.6,"j":0.0,"c":"WG","t":"T3"},{"s":"c4","v":38.8,"j":0.0,"c":"AN","t":"T3"},

{"s":"c2","v":3.55,"j":-0.24,"c":"AN","t":"T1"},{"s":"c2","v":6.1,"j":-0.24,"c":"UN","t":"T1"},{"s":"c2","v":8.5,"j":-0.24,"c":"WG","t":"T3"},{"s":"c2","v":2.5,"j":-0.19,"c":"WG","t":"T3"},{"s":"c2","v":3.0,"j":-0.16,"c":"WG","t":"T1"},{"s":"c2","v":7.8,"j":-0.19,"c":"BD","t":"T1"},{"s":"c2","v":5.3,"j":-0.16,"c":"AN","t":"T1"},{"s":"c2","v":9.9,"j":-0.12,"c":"WG","t":"T3"},{"s":"c2","v":1.1,"j":-0.1,"c":"BD","t":"T1"},{"s":"c2","v":3.35,"j":-0.09,"c":"UN","t":"T1"},{"s":"c2","v":5.5,"j":-0.09,"c":"BD","t":"T1"},{"s":"c2","v":8.1,"j":-0.09,"c":"AN","t":"T1"},{"s":"c2","v":12.8,"j":-0.13,"c":"WG","t":"T1"},{"s":"c2","v":14.3,"j":-0.1,"c":"WG","t":"T3"},{"s":"c2","v":12.0,"j":-0.05,"c":"WG","t":"T3"},{"s":"c2","v":7.4,"j":-0.05,"c":"WG","t":"T3"},{"s":"c2","v":2.3,"j":-0.05,"c":"AN","t":"T1"},{"s":"c2","v":0.7,"j":0.01,"c":"BD","t":"T1"},{"s":"c2","v":4.6,"j":0.0,"c":"UN","t":"T1"},{"s":"c2","v":8.8,"j":0.0,"c":"AN","t":"T1"},{"s":"c2","v":3.5,"j":0.03,"c":"WG","t":"T2"},{"s":"c2","v":1.1,"j":0.11,"c":"BD","t":"T1"},{"s":"c2","v":2.7,"j":0.11,"c":"BD","t":"T1"},{"s":"c2","v":2.2,"j":0.06,"c":"UN","t":"T1"},{"s":"c2","v":5.6,"j":0.07,"c":"BD","t":"T1"},{"s":"c2","v":7.6,"j":0.09,"c":"AN","t":"T1"},{"s":"c2","v":9.4,"j":0.12,"c":"UN","t":"T1"},{"s":"c2","v":1.25,"j":0.17,"c":"AN","t":"T1"},{"s":"c2","v":4.95,"j":0.15,"c":"UN","t":"T1"},{"s":"c2","v":8.0,"j":0.16,"c":"WG","t":"T3"},{"s":"c2","v":10.2,"j":0.17,"c":"WG","t":"T3"},{"s":"c2","v":2.7,"j":0.23,"c":"AN","t":"T1"},{"s":"c2","v":5.15,"j":0.21,"c":"UN","t":"T1"},{"s":"c2","v":6.1,"j":0.25,"c":"WG","t":"T3"},{"s":"c2","v":4.5,"j":0.29,"c":"WG","t":"T3"},{"s":"c2","v":8.8,"j":0.24,"c":"BD","t":"T2"},{"s":"c2","v":13.4,"j":0.15,"c":"AN","t":"T2"},{"s":"c2","v":12.1,"j":0.05,"c":"UN","t":"T1"},{"s":"c2","v":13.7,"j":-0.02,"c":"BD","t":"T1"},{"s":"c2","v":14.2,"j":0.06,"c":"WG","t":"T3"},{"s":"c2","v":15.4,"j":0.09,"c":"WG","t":"T2"},{"s":"c2","v":16.25,"j":-0.07,"c":"BD","t":"T2"},{"s":"c2","v":16.95,"j":-0.15,"c":"WG","t":"T2"},{"s":"c2","v":16.9,"j":0.01,"c":"WG","t":"T3"},{"s":"c2","v":18.0,"j":-0.01,"c":"WG","t":"T3"},{"s":"c2","v":18.2,"j":0.06,"c":"BD","t":"T2"},{"s":"c2","v":17.7,"j":0.14,"c":"BD","t":"T1"},{"s":"c2","v":19.9,"j":-0.08,"c":"WG","t":"T1"},{"s":"c2","v":20.4,"j":-0.05,"c":"AN","t":"T2"},{"s":"c2","v":22.5,"j":-0.08,"c":"UN","t":"T3"},{"s":"c2","v":22.0,"j":0.02,"c":"WG","t":"T3"},{"s":"c2","v":20.4,"j":0.08,"c":"WG","t":"T2"},{"s":"c2","v":22.7,"j":0.09,"c":"AN","t":"T2"},{"s":"c2","v":25.2,"j":-0.01,"c":"WG","t":"T3"},{"s":"c2","v":27.3,"j":0.03,"c":"WG","t":"T2"},{"s":"c2","v":27.7,"j":-0.07,"c":"WG","t":"T3"},{"s":"c2","v":30.5,"j":-0.11,"c":"WG","t":"T3"},{"s":"c2","v":29.6,"j":-0.05,"c":"AN","t":"T3"},{"s":"c2","v":30.3,"j":0.01,"c":"WG","t":"T3"},{"s":"c2","v":32.5,"j":-0.04,"c":"WG","t":"T3"},{"s":"c2","v":29.5,"j":0.06,"c":"UN","t":"T3"},{"s":"c2","v":31.6,"j":0.06,"c":"WG","t":"T3"},{"s":"c2","v":30.85,"j":0.11,"c":"AN","t":"T3"},{"s":"c2","v":36.7,"j":-0.01,"c":"WG","t":"T3"},{"s":"c2","v":36.0,"j":0.06,"c":"BD","t":"T3"},{"s":"c2","v":37.7,"j":0.01,"c":"AN","t":"T2"},{"s":"c2","v":39.9,"j":-0.04,"c":"WG","t":"T2"},{"s":"c2","v":42.4,"j":0.03,"c":"BD","t":"T2"},{"s":"c2","v":46.8,"j":0.0,"c":"WG","t":"T3"},{"s":"c2","v":49.3,"j":0.01,"c":"WG","t":"T3"},{"s":"c2","v":49.9,"j":-0.02,"c":"WG","t":"T3"},{"s":"c2","v":64.7,"j":0.01,"c":"WG","t":"T3"},{"s":"c2","v":68.6,"j":-0.01,"c":"WG","t":"T3"},{"s":"c2","v":69.7,"j":0.01,"c":"BD","t":"T3"},{"s":"c2","v":82.6,"j":-0.01,"c":"WG","t":"T2"},{"s":"c2","v":88.3,"j":0.01,"c":"WG","t":"T2"},

{"s":"c1","v":2.75,"j":-0.11,"c":"WG","t":"T1"},{"s":"c1","v":0.45,"j":0.0,"c":"WG","t":"T1"},{"s":"c1","v":1.0,"j":0.09,"c":"WG","t":"T1"},{"s":"c1","v":6.7,"j":-0.2,"c":"AN","t":"T1"},{"s":"c1","v":4.3,"j":-0.06,"c":"UN","t":"T1"},{"s":"c1","v":5.65,"j":0.07,"c":"WG","t":"T3"},{"s":"c1","v":3.8,"j":0.18,"c":"BD","t":"T3"},{"s":"c1","v":7.9,"j":0.24,"c":"AN","t":"T1"},{"s":"c1","v":9.75,"j":-0.03,"c":"UN","t":"T3"},{"s":"c1","v":12.0,"j":-0.18,"c":"AN","t":"T3"},{"s":"c1","v":13.6,"j":-0.11,"c":"UN","t":"T2"},{"s":"c1","v":11.2,"j":0.09,"c":"AN","t":"T2"},{"s":"c1","v":12.7,"j":0.17,"c":"UN","t":"T2"},{"s":"c1","v":16.25,"j":-0.25,"c":"AN","t":"T1"},{"s":"c1","v":15.6,"j":0.02,"c":"WG","t":"T2"},{"s":"c1","v":19.2,"j":-0.01,"c":"UN","t":"T1"},{"s":"c1","v":19.2,"j":0.12,"c":"BD","t":"T2"},{"s":"c1","v":17.0,"j":0.26,"c":"AN","t":"T3"},{"s":"c1","v":22.4,"j":-0.18,"c":"UN","t":"T2"},{"s":"c1","v":25.5,"j":-0.25,"c":"AN","t":"T2"},{"s":"c1","v":24.2,"j":-0.09,"c":"WG","t":"T3"},{"s":"c1","v":26.4,"j":-0.07,"c":"BD","t":"T2"},{"s":"c1","v":25.2,"j":0.05,"c":"WG","t":"T2"},{"s":"c1","v":26.8,"j":0.08,"c":"BD","t":"T2"},{"s":"c1","v":23.95,"j":0.21,"c":"WG","t":"T3"},{"s":"c1","v":25.9,"j":0.24,"c":"WG","t":"T3"},{"s":"c1","v":29.2,"j":-0.18,"c":"UN","t":"T3"},{"s":"c1","v":33.7,"j":-0.08,"c":"AN","t":"T3"},{"s":"c1","v":36.3,"j":-0.12,"c":"UN","t":"T3"},{"s":"c1","v":35.4,"j":0.01,"c":"AN","t":"T3"},{"s":"c1","v":32.1,"j":0.11,"c":"UN","t":"T3"},{"s":"c1","v":45.3,"j":0.09,"c":"AN","t":"T1"},{"s":"c1","v":48.5,"j":0.0,"c":"UN","t":"T1"},{"s":"c1","v":52.1,"j":-0.06,"c":"AN","t":"T3"},{"s":"c1","v":51.6,"j":0.05,"c":"WG","t":"T3"},{"s":"c1","v":53.6,"j":0.08,"c":"UN","t":"T3"},{"s":"c1","v":63.4,"j":-0.02,"c":"WG","t":"T3"},{"s":"c1","v":65.2,"j":0.01,"c":"AN","t":"T3"},{"s":"c1","v":70.8,"j":-0.08,"c":"WG","t":"T2"},{"s":"c1","v":72.7,"j":0.07,"c":"UN","t":"T1"},{"s":"c1","v":78.1,"j":-0.01,"c":"AN","t":"T3"},{"s":"c1","v":94.7,"j":0.01,"c":"BD","t":"T3"}
]
},
"layer":[
{"data":{"name":"box"},
 "mark":{"type":"rule","color":"#333333","strokeWidth":1.5},
 "encoding":{
  "x":{"field":"lo","type":"quantitative","scale":{"domain":[-7.17,154.17],"nice":false,"zero":false},"axis":{"values":[0,30,50],"title":"% Mitochondrial transcript","labelPadding":8,"titlePadding":10}},
  "x2":{"field":"q1"},
  "y":{"field":"s","type":"nominal","scale":{"type":"band","domain":["Bl","c8","c4","c2","c1"],"paddingInner":0,"paddingOuter":0.1},"axis":{"title":"Outgrowth stage","labelPadding":12,"titlePadding":12,"labelExpr":"datum.value=='Bl'?'Blastocyst':datum.value=='c8'?'8-11 cell':datum.value=='c4'?'4-7 cell':datum.value=='c2'?'2-3 cell':'1 cell'"}}
 }},
{"data":{"name":"box"},
 "mark":{"type":"rule","color":"#333333","strokeWidth":1.5},
 "encoding":{"x":{"field":"q3","type":"quantitative"},"x2":{"field":"hi"},"y":{"field":"s","type":"nominal"}}},
{"data":{"name":"boxl"},
 "mark":{"type":"line","color":"#333333","strokeWidth":1.8,"strokeJoin":"miter"},
 "encoding":{"x":{"field":"x","type":"quantitative"},"y":{"field":"s","type":"nominal"},"yOffset":{"field":"j","type":"quantitative","scale":{"domain":[-0.5,0.5]}},"detail":{"field":"k"},"order":{"field":"o","type":"quantitative"}}},
{"data":{"name":"medl"},
 "mark":{"type":"line","color":"#333333","strokeWidth":3.2},
 "encoding":{"x":{"field":"x","type":"quantitative"},"y":{"field":"s","type":"nominal"},"yOffset":{"field":"j","type":"quantitative"},"detail":{"field":"k"},"order":{"field":"o","type":"quantitative"}}},
{"data":{"name":"out"},
 "mark":{"type":"point","filled":true,"color":"black","size":45,"shape":"circle","opacity":1},
 "encoding":{"x":{"field":"v","type":"quantitative"},"y":{"field":"s","type":"nominal"}}},
{"data":{"name":"pts"},
 "mark":{"type":"point","filled":true,"opacity":0.88,"size":120},
 "encoding":{
  "x":{"field":"v","type":"quantitative"},
  "y":{"field":"s","type":"nominal"},
  "yOffset":{"field":"j","type":"quantitative"},
  "color":{"field":"c","type":"nominal","scale":{"domain":["BD","WG","AN","UN"],"range":["#4DAF4A","#FFA500","#C0C0C0","#BEBEBE"]},
   "legend":{"orient":"none","legendX":62,"legendY":-37,"direction":"horizontal","columns":4,"title":null,"symbolType":"circle","symbolSize":100,"columnPadding":17,"labelExpr":"datum.value=='BD'?'Biparental diploid':datum.value=='WG'?'WG abnormalities':datum.value=='AN'?'Anuclear':'Unknown'"}},
  "shape":{"field":"t","type":"nominal","scale":{"domain":["T1","T2","T3"],"range":["circle","triangle-up","square"]},
   "legend":{"orient":"none","legendX":772,"legendY":-37,"direction":"horizontal","columns":3,"title":null,"symbolSize":100,"columnPadding":17,"symbolFillColor":"black","symbolStrokeColor":"black"}}
 }},
{"data":{"name":"br"},
 "mark":{"type":"line","color":"black","strokeWidth":1.8},
 "encoding":{"x":{"field":"x","type":"quantitative"},"y":{"field":"s","type":"nominal"},"detail":{"field":"k"},"order":{"field":"o","type":"quantitative"}}},
{"data":{"name":"lab"},
 "mark":{"type":"text","angle":90,"fontSize":20,"color":"black","align":"center","baseline":"middle"},
 "encoding":{"x":{"field":"x","type":"quantitative"},"y":{"field":"s","type":"nominal"},"yOffset":{"field":"j","type":"quantitative"},"text":{"field":"l"}}}
]
}
